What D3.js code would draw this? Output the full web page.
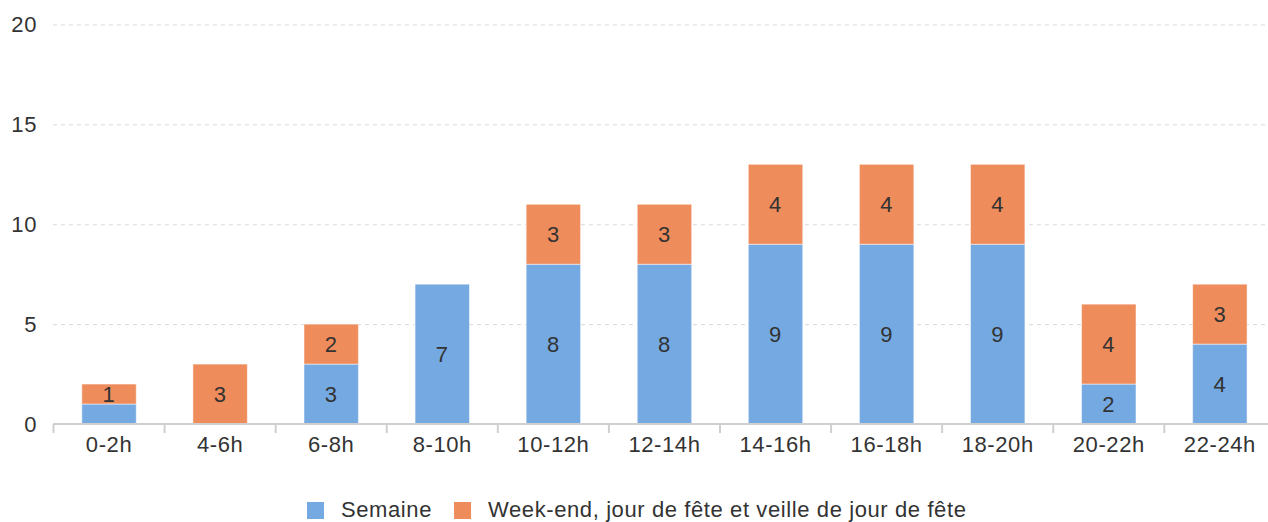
<!DOCTYPE html>
<html lang="fr">
<head>
<meta charset="utf-8">
<title>Semaine / Week-end</title>
<script src="https://cdn.jsdelivr.net/npm/d3@7"></script>
<style>
  body { margin: 0; background: #fff; }
  svg text { font-family: "Liberation Sans", Arial, sans-serif; fill: #333; letter-spacing: 0.6px; }
  .grid line { stroke: #d9d9d9; stroke-dasharray: 4,4; }
  .grid path { display: none; }
</style>
</head>
<body>
<script>
// categories and series
var hours = ["0-2h", "4-6h", "6-8h", "8-10h", "10-12h", "12-14h", "14-16h", "16-18h", "18-20h", "20-22h", "22-24h"];
var semaine = [1, 0, 3, 7, 8, 8, 9, 9, 9, 2, 4];
var weekend = [1, 3, 2, 0, 3, 3, 4, 4, 4, 4, 3];
var seriesNames = ["Semaine", "Week-end, jour de fête et veille de jour de fête"];
var yTicks = [0, 5, 10, 15, 20];

var W = 1268, H = 522;
var colors = ["#74a9e1", "#ef8c5b"];

var svg = d3.select("body").append("svg")
    .attr("width", W).attr("height", H);

var x = d3.scaleBand().domain(hours).range([53.5, 1275.4]);
var y = d3.scaleLinear().domain([0, 20]).range([424, 24.5]);
var barW = x.bandwidth() * 0.49;

// build stacked rows
var rows = hours.map(function(h, i) { return { hour: h, s0: semaine[i], s1: weekend[i] }; });
var stack = d3.stack().keys(["s0", "s1"])(rows);

// grid
svg.append("g")
    .attr("class", "grid")
    .attr("transform", "translate(53,0)")
    .call(d3.axisLeft(y).tickValues(yTicks.slice(1)).tickSize(-(W - 53)).tickFormat(""));

// y labels
svg.selectAll(".ylab")
    .data(yTicks)
  .enter().append("text")
    .attr("class", "ylab")
    .attr("x", 37)
    .attr("y", function(d) { return y(d); })
    .attr("dy", "0.36em")
    .attr("text-anchor", "end")
    .style("font-size", "22px")
    .text(function(d) { return d; });

// bars
var layer = svg.selectAll(".layer")
    .data(stack)
  .enter().append("g")
    .attr("class", "layer")
    .style("fill", function(d, i) { return colors[i]; });

layer.selectAll("rect")
    .data(function(d) { return d; })
  .enter().append("rect")
    .filter(function(d) { return d[1] > d[0]; })
    .attr("x", function(d) { return x(d.data.hour) + (x.bandwidth() - barW) / 2; })
    .attr("width", barW)
    .attr("y", function(d) { return y(d[1]); })
    .attr("height", function(d) { return y(d[0]) - y(d[1]); })
    .style("stroke", "rgba(255,255,255,0.5)")
    .style("stroke-width", 1);

// value labels (the tiny bottom "1" is not shown in the original)
stack.forEach(function(s, si) {
  svg.selectAll(".lab" + si)
      .data(s.filter(function(d) {
        var v = d[1] - d[0];
        return v > 0 && (v >= 2 || si == 1);
      }))
    .enter().append("text")
      .attr("x", function(d) { return x(d.data.hour) + x.bandwidth() / 2; })
      .attr("y", function(d) { return (y(d[0]) + y(d[1])) / 2; })
      .attr("dy", "0.36em")
      .attr("text-anchor", "middle")
      .style("font-size", "22px")
      .text(function(d) { return d[1] - d[0]; });
});

// x axis
var xAxis = svg.append("g")
    .attr("transform", "translate(0,424)");
xAxis.append("line")
    .attr("x1", 53).attr("x2", W)
    .style("stroke", "#cfcfcf").style("stroke-width", 2);
xAxis.selectAll(".tk")
    .data(hours)
  .enter().append("line")
    .attr("x1", function(d) { return x(d); })
    .attr("x2", function(d) { return x(d); })
    .attr("y1", 0).attr("y2", 9)
    .style("stroke", "#cfcfcf").style("stroke-width", 2);
xAxis.selectAll(".xlab")
    .data(hours)
  .enter().append("text")
    .attr("x", function(d) { return x(d) + x.bandwidth() / 2; })
    .attr("y", 20)
    .attr("dy", "0.36em")
    .attr("text-anchor", "middle")
    .style("font-size", "22px")
    .text(function(d) { return d; });

// legend
var legend = svg.append("g").attr("transform", "translate(307,509)");
var lx = 0;
seriesNames.forEach(function(name, i) {
  var g = legend.append("g").attr("transform", "translate(" + lx + ",0)");
  g.append("rect")
      .attr("x", 0).attr("y", -7).attr("width", 17).attr("height", 17)
      .style("fill", colors[i]);
  var t = g.append("text")
      .attr("x", 34).attr("y", 0).attr("dy", "0.36em")
      .style("font-size", "22px")
      .text(name);
  lx += 34 + t.node().getComputedTextLength() + 22;
});
</script>
</body>
</html>
